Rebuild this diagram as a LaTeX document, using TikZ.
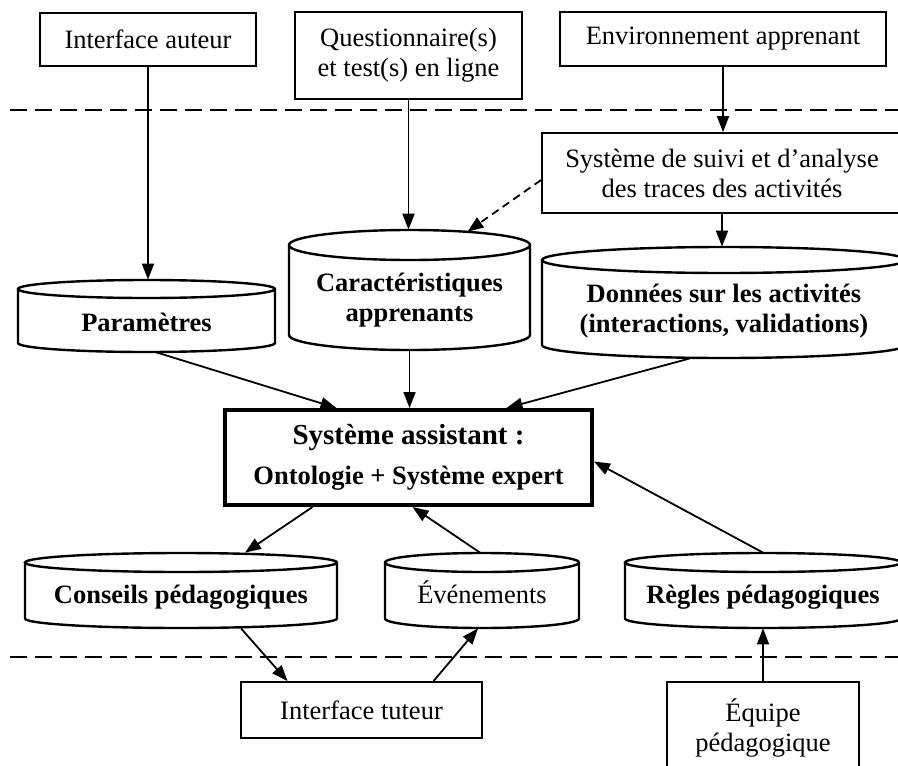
\documentclass[tikz,border=0pt]{standalone}
\usepackage{fontspec}
\setmainfont{Liberation Serif}
\usetikzlibrary{arrows.meta, calc}
\newcommand{\police}{\fontsize{13.25pt}{15pt}\selectfont}
\tikzset{
  boite/.style={draw, line width=0.9pt, align=center, inner sep=0pt, font=\police},
  dbligne/.style={line width=1.2pt},
  dbzone/.style={inner sep=0pt},
  dbtexte/.style={align=center, inner sep=0pt, font=\police\bfseries},
  fleche/.style={line width=0.9pt, -{Triangle[length=8pt,width=6pt]}},
  pointille/.style={fleche, dash pattern=on 4pt off 2.5pt},
  separateur/.style={line width=0.9pt, dash pattern=on 8.5pt off 4pt},
}
% base de donnees : [options du texte]{nom}{cx}{cy}{demi-largeur}{demi-hauteur}{ry}{texte}
\newcommand{\cylindre}[8][]{%
  \draw[dbligne] (#3-#5,#4+#6-#7) -- (#3-#5,#4-#6+#7)
    arc[start angle=180, end angle=360, x radius=#5, y radius=#7]
    -- (#3+#5,#4+#6-#7)
    arc[start angle=0, end angle=360, x radius=#5, y radius=#7];
  \node[dbzone, minimum width=#5pt, minimum height=#6pt] (#2) at (#3,#4) {};
  \node[dbtexte, #1] (#2-t) at (#3,#4-0.7*#7) {#8};
}

\begin{document}
\begin{tikzpicture}[x=0.5pt, y=0.5pt]
    \path[use as bounding box] (0,0) rectangle (898,-765);
    \clip (0,0) rectangle (898,-765);

    % Separations
    \draw[separateur] (10,-110) -- (898,-110);
    \draw[separateur] (10,-657) -- (898,-657);

    % Entrees
    \node[boite, minimum width=108pt, minimum height=26.5pt] (auteur) at (148,-39.5) {Interface auteur};
    \node[boite, minimum width=113.5pt, minimum height=43.5pt] (quest) at (408.5,-55.5) {Questionnaire(s)\\et test(s) en ligne};
    \node[boite, minimum width=163pt, minimum height=27pt] (env) at (723,-39) {Environnement apprenant};
    \node[boite, minimum width=180pt, minimum height=40pt] (suivi) at (722,-173) {Système de suivi et d’analyse\\des traces des activités};

    % Bases
    \cylindre{param}{146.5}{-316}{128.5}{36}{9}{Paramètres}
    \cylindre{carac}{409.5}{-290}{120.5}{60}{15}{Caractéristiques\\apprenants}
    \cylindre{donnees}{724}{-302.5}{182}{55.5}{13}{Données sur les activités\\(interactions, validations)}

    % Systeme assistant
    \node[boite, line width=2pt, minimum width=183.5pt, minimum height=47.5pt, font=\police\bfseries] (assist) at (408.5,-457.5)
      {{\fontsize{14.5pt}{17pt}\selectfont Système assistant :}\\[5pt]Ontologie + Système expert};

    \cylindre{conseils}{181}{-590.5}{156}{37.5}{9.5}{Conseils pédagogiques}
    \cylindre[font=\police, yshift=2.5pt]{even}{482}{-590.5}{97}{37.5}{9.5}{Événements}
    \cylindre{regles}{763}{-590.5}{138}{37.5}{9.5}{Règles pédagogiques}

    % Sorties
    \node[boite, minimum width=120.5pt, minimum height=28pt] (tuteur) at (361.5,-710) {Interface tuteur};
    \node[boite, minimum width=96pt, minimum height=46pt] (equipe) at (763,-728) {Équipe\\pédagogique};

    % Fleches
    \draw[fleche] (auteur.south) -- (auteur.south |- param.north);
    \draw[fleche] (quest.south) -- (quest.south |- carac.north);
    \draw[fleche] (env.south) -- (env.south |- suivi.north);
    \draw[fleche] (suivi.south) -- (suivi.south |- donnees.north);
    \draw[pointille] ([yshift=-3.5pt]suivi.west) -- ([xshift=29pt,yshift=-1pt]carac.north);
    \draw[fleche] ([xshift=5pt]param.south) -- ([xshift=-36pt]assist.north);
    \draw[fleche] (carac.south) -- (carac.south |- assist.north);
    \draw[fleche] ([xshift=-17pt]donnees.south) -- ([xshift=49pt]assist.north);
    \draw[fleche] ([xshift=-48pt]assist.south) -- ([xshift=32pt]conseils.north);
    \draw[fleche] ([xshift=-1pt]even.north) -- ([xshift=2pt]assist.south);
    \draw[fleche] (regles.north) -- ([yshift=-2pt]assist.east);
    \draw[fleche] ([xshift=30pt]conseils.south) -- ([xshift=-37pt]tuteur.north);
    \draw[fleche] ([xshift=36pt]tuteur.north) -- ([xshift=-2pt]even.south);
    \draw[fleche] (equipe.north) -- (regles.south);
\end{tikzpicture}
\end{document}
